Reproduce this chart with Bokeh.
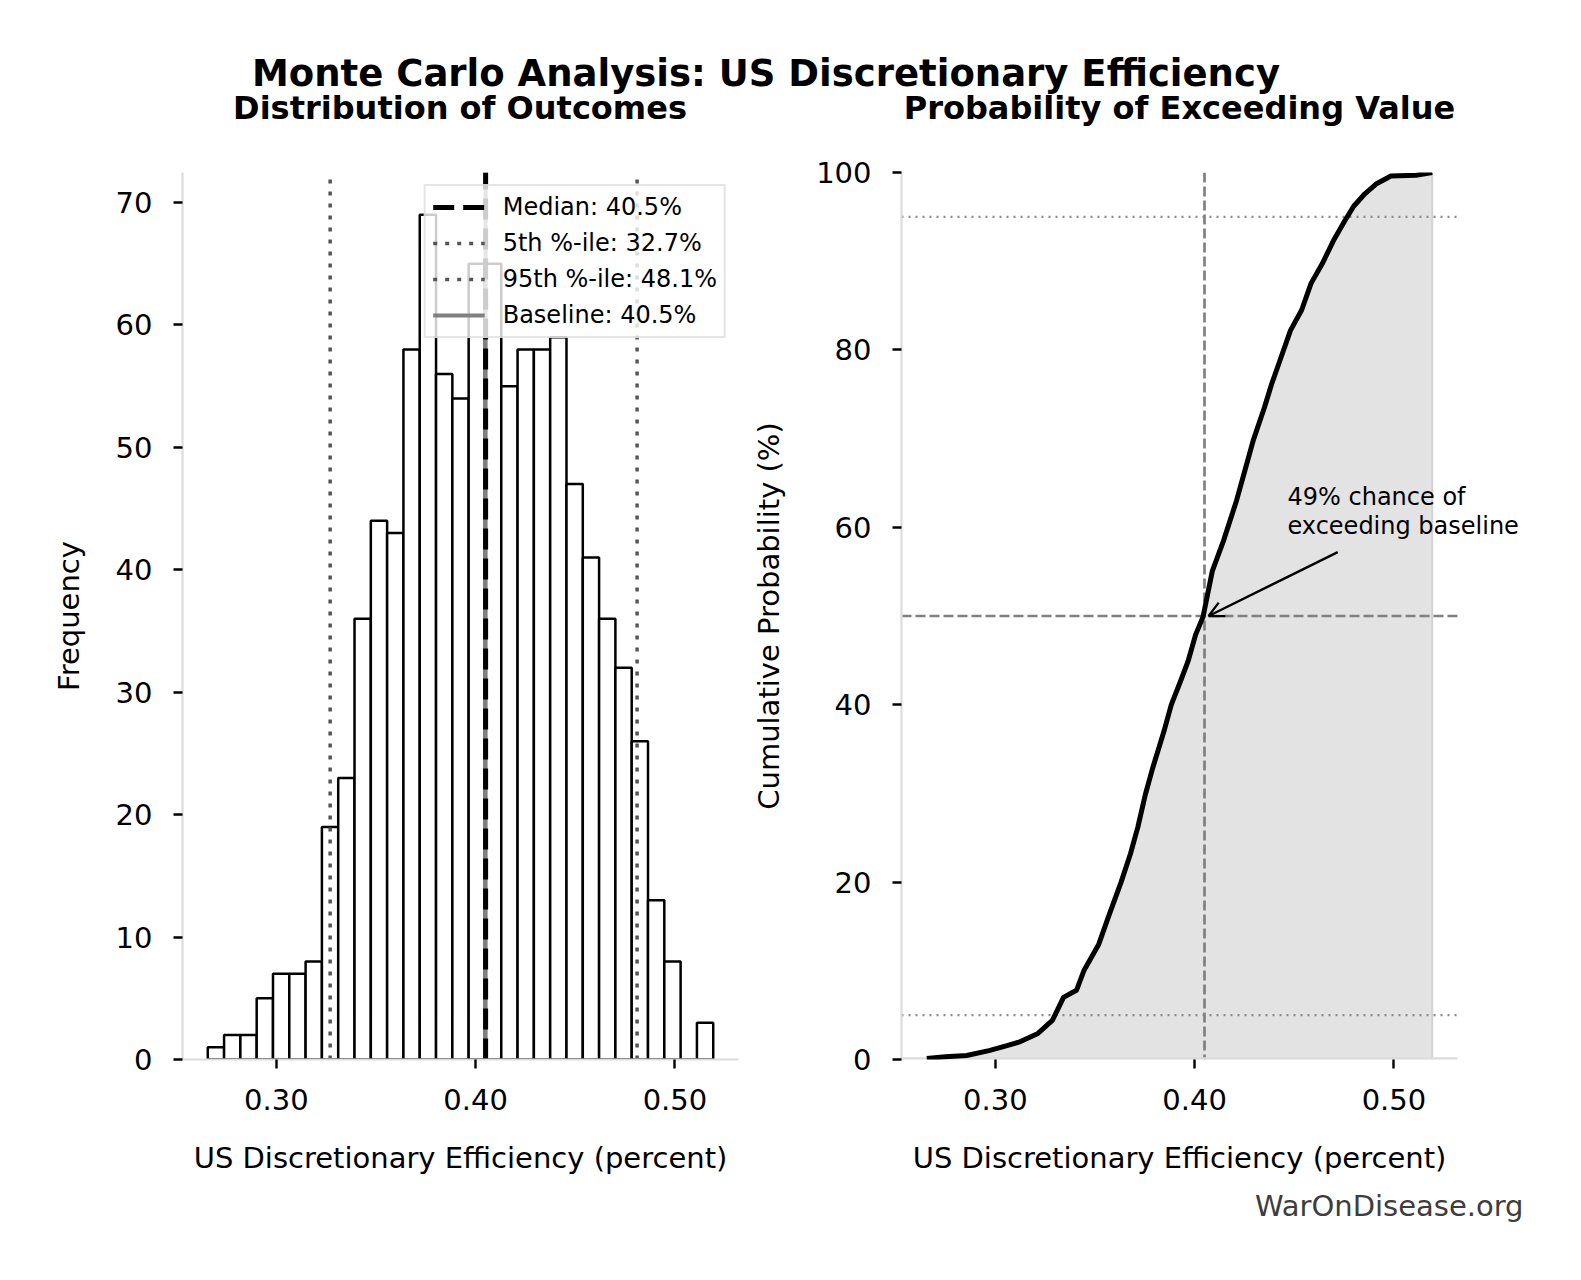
import numpy as np
from bokeh.plotting import figure
from bokeh.layouts import column, row
from bokeh.models import (Range1d, FixedTicker, NumeralTickFormatter, Arrow,
                          OpenHead, Legend, LegendItem, Label)
from bokeh.core.properties import value
from bokeh.embed import file_html
from bokeh.resources import INLINE

FONT = "DejaVu Sans"

# ---- data -----------------------------------------------------------------
# histogram of 1,000 simulated outcomes (31 equal-width bins)
hist_min = 0.2656
hist_max = 0.5192
hist_counts = [1, 2, 2, 5, 7, 7, 8, 19, 23, 36, 44, 43, 58, 69, 56, 54,
               65, 65, 55, 58, 58, 59, 47, 41, 36, 32, 26, 13, 8, 0, 3]

median_val = 0.405
p5_val = 0.327
p95_val = 0.481
baseline_val = 0.405
exceed_pct = 49

# empirical cumulative distribution (percent)
cdf_x = [0.2656, 0.2750, 0.2856, 0.2968, 0.3050, 0.3118, 0.3211, 0.3286,
         0.3310, 0.3342, 0.3407, 0.3444, 0.3519, 0.3566, 0.3631, 0.3678,
         0.3715, 0.3753, 0.3790, 0.3846, 0.3883, 0.3930, 0.3967, 0.4005,
         0.4042, 0.4089, 0.4145, 0.4210, 0.4257, 0.4294, 0.4350, 0.4387,
         0.4434, 0.4481, 0.4537, 0.4584, 0.4640, 0.4696, 0.4752, 0.4798,
         0.4854, 0.4910, 0.4985, 0.5110, 0.5192]
cdf_y = [0.1, 0.3, 0.45, 1.0, 1.5, 1.95, 2.9, 4.4,
         5.5, 7.0, 7.8, 10.0, 13.0, 16.0, 20.0, 23.2,
         26.2, 29.9, 32.9, 37.0, 40.0, 42.7, 44.9, 47.9,
         49.9, 55.1, 58.5, 63.0, 66.8, 69.8, 73.5, 76.2,
         79.2, 82.2, 84.5, 87.5, 89.7, 92.3, 94.5, 96.2,
         97.6, 98.7, 99.6, 99.7, 100.0]

x_ticks = [0.30, 0.40, 0.50]
freq_ticks = [0, 10, 20, 30, 40, 50, 60, 70]
prob_ticks = [0, 20, 40, 60, 80, 100]

suptitle = "Monte Carlo Analysis: US Discretionary Efficiency"
left_title = "Distribution of Outcomes"
right_title = "Probability of Exceeding Value"
x_label = "US Discretionary Efficiency (percent)"
watermark = "WarOnDisease.org"

# ---- geometry ---------------------------------------------------------------
W, H = 1581, 1280
HEAD_H, FOOT_H = 140, 150
BODY_H = H - HEAD_H - FOOT_H
FRAME_W, FRAME_H = 556, 887
TOP_B = 32
BOT_B = BODY_H - TOP_B - FRAME_H
P1_W, P1_LEFT = 740, 182
P2_LEFT = 161
P2_FRAME_W = 630          # wider canvas on the right so the note is not clipped
span = hist_max - hist_min
x_lo, x_hi = hist_min - 0.05 * span, hist_max + 0.05 * span
x_hi_wide = x_lo + (x_hi - x_lo) * P2_FRAME_W / FRAME_W
y_top = max(hist_counts) * 1.05
SPINE = "#dcdcdc"


def blank(w, h):
    f = figure(width=w, height=h, x_range=Range1d(0, w), y_range=Range1d(h, 0),
               title=None, x_axis_location=None, y_axis_location=None,
               toolbar_location=None, output_backend="svg",
               min_border_left=0, min_border_right=0,
               min_border_top=0, min_border_bottom=0)
    f.outline_line_color = None
    f.grid.visible = False
    return f


def style_axes(p, ylabel):
    for ax in (p.xaxis, p.yaxis):
        ax.axis_line_color = SPINE
        ax.axis_line_width = 2.2
        ax.major_tick_line_color = "black"
        ax.major_tick_line_width = 2.4
        ax.major_tick_out = 9
        ax.major_tick_in = 0
        ax.minor_tick_line_color = None
        ax.major_label_text_font = FONT
        ax.major_label_text_font_size = "29px"
        ax.major_label_text_color = "black"
        ax.axis_label_text_font = FONT
        ax.axis_label_text_font_size = "29px"
        ax.axis_label_text_font_style = "normal"
        ax.axis_label_text_color = "black"
    p.yaxis.axis_label = ylabel
    p.xaxis.ticker = FixedTicker(ticks=x_ticks)
    p.xaxis.formatter = NumeralTickFormatter(format="0.00")
    p.xaxis.major_label_standoff = 20
    p.yaxis.major_label_standoff = 21
    p.yaxis.axis_label_standoff = 27
    p.grid.visible = False
    p.outline_line_color = None


# ---- header -----------------------------------------------------------------
head = blank(W, HEAD_H)
head.text(x=[765.5], y=[72.6], text=[suptitle], text_font=value(FONT),
          text_font_size="37px", text_font_style="bold", text_align="center",
          text_baseline="middle", text_color="black")
head.text(x=[459.5, 1179], y=[107.9, 107.9], text=[left_title, right_title],
          text_font=value(FONT), text_font_size="32px", text_font_style="bold",
          text_align="center", text_baseline="middle", text_color="black")

# ---- left: histogram --------------------------------------------------------
p1 = figure(width=P1_W, height=BODY_H, x_range=Range1d(x_lo, x_hi),
            y_range=Range1d(0, y_top), toolbar_location=None,
            output_backend="svg", min_border_left=P1_LEFT,
            min_border_right=P1_W - P1_LEFT - FRAME_W,
            min_border_top=TOP_B, min_border_bottom=BOT_B)
style_axes(p1, "Frequency")
p1.yaxis.ticker = FixedTicker(ticks=freq_ticks)

edges = np.linspace(hist_min, hist_max, len(hist_counts) + 1)
p1.quad(left=edges[:-1], right=edges[1:], bottom=0, top=hist_counts,
        fill_color="white", line_color="black", line_width=2.5)

r_base = p1.segment(x0=[baseline_val], y0=[0], x1=[baseline_val], y1=[y_top],
                    line_color="#808080", line_width=4)
r_med = p1.segment(x0=[median_val], y0=[0], x1=[median_val], y1=[y_top],
                   line_color="black", line_width=5, line_dash=value("21 9"))
r_p5 = p1.segment(x0=[p5_val], y0=[0], x1=[p5_val], y1=[y_top],
                  line_color="#555555", line_width=3.5, line_dash=value("4 8"))
r_p95 = p1.segment(x0=[p95_val], y0=[0], x1=[p95_val], y1=[y_top],
                   line_color="#555555", line_width=3.5, line_dash=value("4 8"))

legend = Legend(items=[
    LegendItem(label=f"Median: {median_val * 100:.1f}%", renderers=[r_med]),
    LegendItem(label=f"5th %-ile: {p5_val * 100:.1f}%", renderers=[r_p5]),
    LegendItem(label=f"95th %-ile: {p95_val * 100:.1f}%", renderers=[r_p95]),
    LegendItem(label=f"Baseline: {baseline_val * 100:.1f}%", renderers=[r_base]),
], location="top_right", margin=12, padding=7, spacing=8,
    glyph_width=52, glyph_height=28, label_height=28, label_standoff=18,
    label_text_font=FONT, label_text_font_size="24px", label_text_color="black",
    border_line_color="#cccccc", border_line_width=2,
    background_fill_color="white", background_fill_alpha=0.8)
p1.add_layout(legend)

# ---- right: cumulative probability -----------------------------------------
p2 = figure(width=W - P1_W, height=BODY_H, x_range=Range1d(x_lo, x_hi_wide),
            y_range=Range1d(0, 100), toolbar_location=None,
            output_backend="svg", min_border_left=P2_LEFT,
            min_border_right=W - P1_W - P2_LEFT - P2_FRAME_W,
            min_border_top=TOP_B, min_border_bottom=BOT_B)
style_axes(p2, "Cumulative Probability (%)")
p2.yaxis.ticker = FixedTicker(ticks=prob_ticks)
p2.xaxis.axis_line_color = None   # bottom spine drawn below, over the data span only

p2.varea(x=cdf_x, y1=0, y2=cdf_y, fill_color="#e3e3e3")
p2.segment(x0=[cdf_x[-1]], y0=[0], x1=[cdf_x[-1]], y1=[cdf_y[-1]],
           line_color="#d2d2d2", line_width=2)
p2.segment(x0=[x_lo, x_lo], y0=[95, 5], x1=[x_hi, x_hi], y1=[95, 5],
           line_color="#8a8a8a", line_width=2.3, line_dash=value("2 5"))
p2.segment(x0=[x_lo], y0=[50], x1=[x_hi], y1=[50],
           line_color="#808080", line_width=2.7, line_dash=value("10 4"))
p2.vspan(x=[baseline_val], line_color="#808080", line_width=2.7,
         line_dash=value("10 4"))
p2.segment(x0=[x_lo], y0=[0], x1=[x_hi], y1=[0], line_color=SPINE,
           line_width=4.4)
p2.line(cdf_x, cdf_y, line_color="black", line_width=5, line_join="round")

note_x, note_y = 0.4466, 60.2
p2.add_layout(Arrow(end=OpenHead(size=15, line_width=2.3, line_color="black"),
                    x_start=0.4718, y_start=57.2,
                    x_end=baseline_val + 0.002, y_end=50.0,
                    line_width=2.3, line_color="black"))
for txt, dy in ((f"{exceed_pct}% chance of", 3.2), ("exceeding baseline", 0.0)):
    p2.add_layout(Label(x=note_x, y=note_y + dy, text=txt, text_font=FONT,
                        text_font_size="24px", text_color="black",
                        text_align="left", text_baseline="alphabetic"))

# ---- footer: x-axis titles and site name -----------------------------------
foot = blank(W, FOOT_H)
foot.text(x=[P1_LEFT + FRAME_W / 2, P1_W + P2_LEFT + FRAME_W / 2], y=[27, 27],
          text=[x_label, x_label], text_font=value(FONT), text_font_size="29px",
          text_color="black", text_align="center", text_baseline="middle")
foot.text(x=[1523], y=[75], text=[watermark], text_font=value(FONT),
          text_font_size="29px", text_color="#3d3d3d", text_align="right",
          text_baseline="middle")

layout = column(head, row(p1, p2), foot)
open("out.html", "w").write(file_html(layout, INLINE))
